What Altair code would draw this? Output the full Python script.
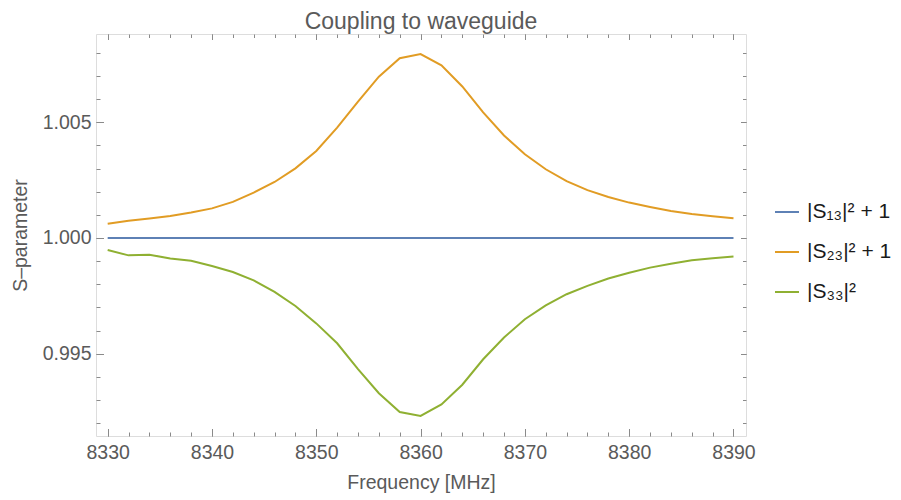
import altair as alt
import pandas as pd

# ---- data ----
freq = [8330, 8332, 8334, 8336, 8338, 8340, 8342, 8344, 8346, 8348, 8350,
        8352, 8354, 8356, 8358, 8360, 8362, 8364, 8366, 8368, 8370,
        8372, 8374, 8376, 8378, 8380, 8382, 8384, 8386, 8388, 8390]

s13 = [1.0, 1.0, 1.0, 1.0, 1.0, 1.0, 1.0, 1.0, 1.0, 1.0, 1.0,
       1.0, 1.0, 1.0, 1.0, 1.0, 1.0, 1.0, 1.0, 1.0, 1.0,
       1.0, 1.0, 1.0, 1.0, 1.0, 1.0, 1.0, 1.0, 1.0, 1.0]

s23 = [1.00062, 1.00075, 1.00084, 1.00095, 1.00110, 1.00128, 1.00156, 1.00196,
       1.00242, 1.00301, 1.00376, 1.00477, 1.00589, 1.00697, 1.00777, 1.00795,
       1.00746, 1.00655, 1.00543, 1.00443, 1.00362, 1.00297, 1.00246, 1.00207,
       1.00177, 1.00153, 1.00134, 1.00117, 1.00104, 1.00094, 1.00085]

s33 = [0.99948, 0.99925, 0.99928, 0.99911, 0.99902, 0.99879, 0.99853, 0.99817,
       0.99767, 0.99706, 0.99631, 0.99545, 0.99433, 0.99329, 0.99248, 0.99231,
       0.99281, 0.99366, 0.99476, 0.99570, 0.99649, 0.99709, 0.99757, 0.99793,
       0.99825, 0.99850, 0.99872, 0.99889, 0.99904, 0.99912, 0.99920]

series_names = ["|S\u2081\u2083|\u00b2 + 1", "|S\u2082\u2083|\u00b2 + 1", "|S\u2083\u2083|\u00b2"]
series_colors = ["#5E81B5", "#E19C24", "#8FB032"]

x_domain = [8328.88, 8391.2]
y_domain = [0.991443, 1.008816]

x_major = [8330, 8340, 8350, 8360, 8370, 8380, 8390]
x_minor = [8330, 8332, 8334, 8336, 8338, 8340, 8342, 8344, 8346, 8348, 8350,
           8352, 8354, 8356, 8358, 8360, 8362, 8364, 8366, 8368, 8370,
           8372, 8374, 8376, 8378, 8380, 8382, 8384, 8386, 8388, 8390]
y_major = [0.995, 1.000, 1.005]
y_minor = [0.992, 0.993, 0.994, 0.995, 0.996, 0.997, 0.998, 0.999, 1.000,
           1.001, 1.002, 1.003, 1.004, 1.005, 1.006, 1.007, 1.008]

rows = []
for name, vals in zip(series_names, [s13, s23, s33]):
    for f, v in zip(freq, vals):
        rows.append({"series": name, "freq": f, "value": v})
df = pd.DataFrame(rows)

anchor_df = pd.DataFrame({"freq": [freq[0], freq[-1]], "value": [s13[0], s13[-1]]})

FONT = "Liberation Sans"
FRAME = "#8a8a8a"
TEXT = "#5a5a5a"

x_scale = alt.Scale(domain=x_domain, nice=False, zero=False)
y_scale = alt.Scale(domain=y_domain, nice=False, zero=False)

lines = alt.Chart(df).mark_line(strokeWidth=2, clip=True).encode(
    x=alt.X("freq:Q", scale=x_scale,
            axis=alt.Axis(orient="bottom", values=x_major, format="d", ticks=False,
                          domain=False, grid=False, labelPadding=7, labelFontSize=19.5,
                          labelColor=TEXT, labelFont=FONT, labelFlush=False,
                          title="Frequency [MHz]", titleY=52, titleBaseline="alphabetic",
                          titleFontSize=19.5, titleFontWeight="normal", titleColor=TEXT,
                          titleFont=FONT)),
    y=alt.Y("value:Q", scale=y_scale,
            axis=alt.Axis(orient="left", values=y_major, format=".3f", ticks=False,
                          domain=False, grid=False, labelPadding=5, labelFontSize=19.5,
                          labelColor=TEXT, labelFont=FONT,
                          title="S\u2013parameter", titleX=-69.5, titleBaseline="alphabetic",
                          titleFontSize=19.5, titleFontWeight="normal", titleColor=TEXT,
                          titleFont=FONT)),
    color=alt.Color("series:N",
                    scale=alt.Scale(domain=series_names, range=series_colors),
                    sort=series_names,
                    legend=alt.Legend(orient="none", legendX=678, legendY=165, title=None,
                                      symbolType="stroke", symbolSize=576,
                                      symbolStrokeWidth=2, labelFontSize=21,
                                      labelColor="#1a1a1a", labelFont=FONT,
                                      labelOffset=7, rowPadding=17)),
)


def tick_layer(x_orient, x_vals, y_orient, y_vals, size):
    return alt.Chart(anchor_df).mark_point(opacity=0).encode(
        x=alt.X("freq:Q", scale=x_scale,
                axis=alt.Axis(orient=x_orient, values=x_vals, labels=False, domain=False,
                              grid=False, tickSize=size, offset=-size, title=None,
                              minExtent=0, maxExtent=0,
                              tickColor=FRAME, tickWidth=1)),
        y=alt.Y("value:Q", scale=y_scale,
                axis=alt.Axis(orient=y_orient, values=y_vals, labels=False, domain=False,
                              grid=False, tickSize=size, offset=-size, title=None,
                              minExtent=0, maxExtent=0,
                              tickColor=FRAME, tickWidth=1)),
    )


chart = alt.layer(
    lines,
    tick_layer("bottom", x_major, "left", y_major, 7.5),
    tick_layer("bottom", x_minor, "left", y_minor, 4),
    tick_layer("top", x_major, "right", y_major, 5.5),
    tick_layer("top", x_minor, "right", y_minor, 3.5),
).resolve_axis(
    x="independent", y="independent"
).properties(
    width=650, height=402,
    padding={"left": 96, "top": 34, "right": 155, "bottom": 64},
    autosize=alt.AutoSizeParams(type="none"),
    title=alt.Title("Coupling to waveguide", fontSize=23, font=FONT, color=TEXT,
                    fontWeight="normal", baseline="alphabetic", offset=7, dy=25,
                    anchor="middle", frame="group"),
).configure_view(
    stroke=FRAME, strokeWidth=1
).configure(background="white")

chart.save("out.html", embed_options={"renderer": "svg", "actions": False})
